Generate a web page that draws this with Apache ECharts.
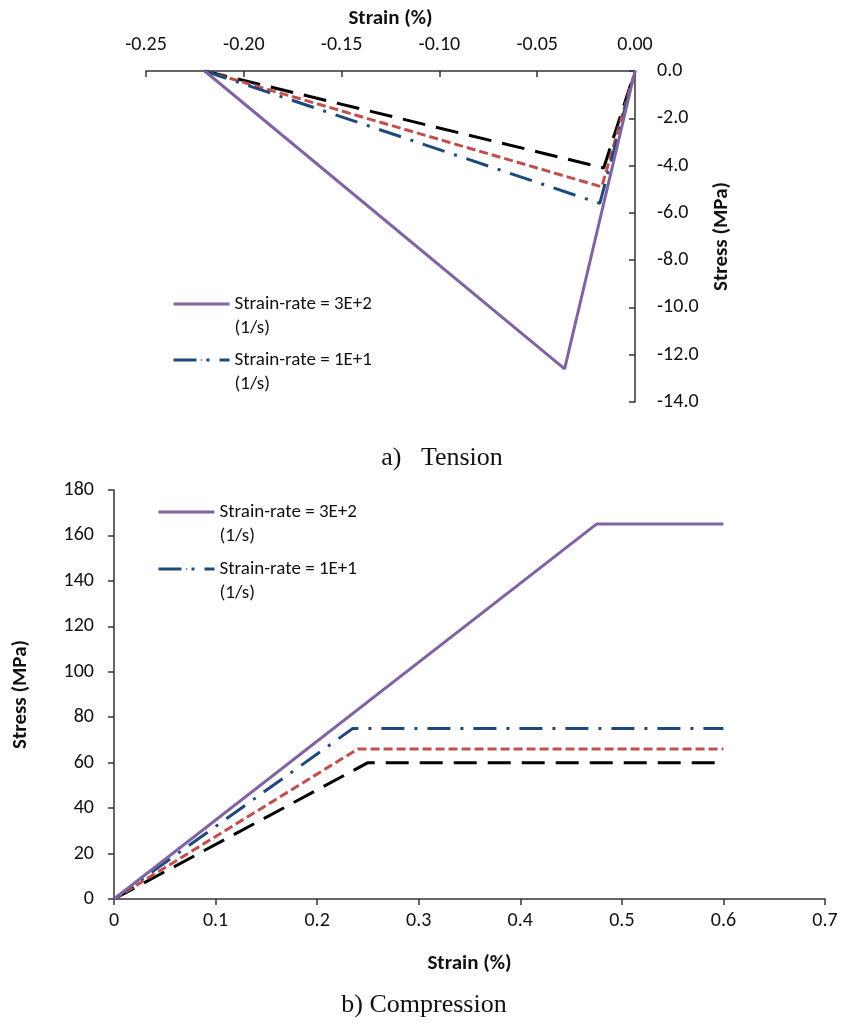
<!DOCTYPE html>
<html>
<head>
<meta charset="utf-8">
<script src="https://cdn.jsdelivr.net/npm/echarts@6/dist/echarts.min.js"></script>
<style>
  html, body { margin: 0; padding: 0; background: #fff; }
  #chart { width: 844px; height: 1030px; }
</style>
</head>
<body>
<div id="chart"></div>
<script>
(function() {
  // a) tension: strain (%) / stress (MPa)
  var tenPurpleStrain = [-0.22, -0.036, 0];
  var tenPurpleStress = [0, -12.6, 0];
  var tenBlueStrain = [-0.22, -0.018, 0];
  var tenBlueStress = [0, -5.6, 0];
  var tenRedStrain = [-0.22, -0.017, 0];
  var tenRedStress = [0, -4.9, 0];
  var tenBlackStrain = [-0.22, -0.016, 0];
  var tenBlackStress = [0, -4.1, 0];

  // b) compression
  var comPurpleStrain = [0, 0.475, 0.6];
  var comPurpleStress = [0, 165, 165];
  var comBlueStrain = [0, 0.235, 0.6];
  var comBlueStress = [0, 75, 75];
  var comRedStrain = [0, 0.24, 0.6];
  var comRedStress = [0, 66, 66];
  var comBlackStrain = [0, 0.25, 0.6];
  var comBlackStress = [0, 60, 60];

  var namePurple = "Strain-rate = 3E+2\n(1/s)";
  var nameBlue = "Strain-rate = 1E+1\n(1/s)";
  var nameRed = "red series";
  var nameBlack = "black series";

  var font = "Carlito, Lato, sans-serif";
  var axisCol = "#333";
  var nameStyle = { fontFamily: font, fontSize: 21, fontWeight: "bold", color: "#111" };

  var pairs = function(xs, ys) {
    return xs.map(function(x, i) { return [x, ys[i]]; });
  };

  var myChart = echarts.init(document.getElementById("chart"));

  var mkLine = function(name, idx, data, color, width, dash) {
    return {
      name: name,
      type: "line",
      xAxisIndex: idx,
      yAxisIndex: idx,
      data: data,
      symbol: "none",
      showSymbol: false,
      animation: false,
      lineStyle: { color: color, width: width, type: dash, cap: "butt" },
      itemStyle: { color: color }
    };
  };

  // legend text: an empty first line keeps the icon level with "Strain-rate = ..."
  var mkLegend = function(name, left, iconY) {
    return {
      data: [name],
      left: left,
      top: iconY - 37,
      padding: 0,
      itemWidth: 56,
      itemHeight: 2,
      selectedMode: false,
      lineStyle: { width: 3 },
      formatter: function(n) { return " \n" + n; },
      textStyle: { fontFamily: font, fontSize: 19, color: "#111", lineHeight: 24 }
    };
  };

  var option = {
    backgroundColor: "#fff",
    animation: false,
    grid: [
      { left: 146, right: 209, top: 71, bottom: 628 },
      { left: 114, right: 19, top: 490, bottom: 131 }
    ],
    legend: [
      mkLegend(namePurple, 172, 305),
      mkLegend(nameBlue, 172, 361),
      mkLegend(namePurple, 157, 513),
      mkLegend(nameBlue, 157, 570)
    ],
    xAxis: [
      {
        gridIndex: 0,
        type: "value",
        position: "top",
        min: -0.25,
        max: 0,
        interval: 0.05,
        name: "Strain (%)",
        nameLocation: "middle",
        nameGap: 42,
        nameTextStyle: nameStyle,
        axisLine: { onZero: false, lineStyle: { color: axisCol, width: 1.5 } },
        axisTick: { inside: true, length: 6, lineStyle: { color: axisCol, width: 1.5 } },
        axisLabel: {
          margin: 16,
          fontFamily: font,
          fontSize: 20,
          color: "#111",
          formatter: function(v) { return v.toFixed(2); }
        },
        splitLine: { show: false }
      },
      {
        gridIndex: 1,
        type: "value",
        min: 0,
        max: 0.7,
        interval: 0.1,
        name: "Strain (%)",
        nameLocation: "middle",
        nameGap: 54,
        nameTextStyle: nameStyle,
        axisLine: { onZero: false, lineStyle: { color: axisCol, width: 1.5 } },
        axisTick: { length: 6, lineStyle: { color: axisCol, width: 1.5 } },
        axisLabel: {
          margin: 12,
          fontFamily: font,
          fontSize: 20,
          color: "#111",
          formatter: function(v) { return v === 0 ? "0" : v.toFixed(1); }
        },
        splitLine: { show: false }
      }
    ],
    yAxis: [
      {
        gridIndex: 0,
        type: "value",
        position: "right",
        min: -14,
        max: 0,
        interval: 2,
        name: "Stress (MPa)",
        nameLocation: "middle",
        nameRotate: 90,
        nameGap: 76,
        nameTextStyle: nameStyle,
        axisLine: { show: true, onZero: false, lineStyle: { color: axisCol, width: 1.5 } },
        axisTick: { show: true, inside: true, length: 6, lineStyle: { color: axisCol, width: 1.5 } },
        axisLabel: {
          margin: 22,
          fontFamily: font,
          fontSize: 20,
          color: "#111",
          formatter: function(v) { return v.toFixed(1); }
        },
        splitLine: { show: false }
      },
      {
        gridIndex: 1,
        type: "value",
        min: 0,
        max: 180,
        interval: 20,
        name: "Stress (MPa)",
        nameLocation: "middle",
        nameRotate: 90,
        nameGap: 83,
        nameTextStyle: nameStyle,
        axisLine: { show: true, onZero: false, lineStyle: { color: axisCol, width: 1.5 } },
        axisTick: { show: true, length: 6, lineStyle: { color: axisCol, width: 1.5 } },
        axisLabel: { margin: 20, fontFamily: font, fontSize: 20, color: "#111" },
        splitLine: { show: false }
      }
    ],
    graphic: [
      {
        type: "text",
        x: 442,
        y: 458,
        style: {
          text: "a)   Tension",
          font: "26px 'Liberation Serif', serif",
          fill: "#111",
          align: "center",
          verticalAlign: "middle"
        }
      },
      {
        type: "text",
        x: 424,
        y: 1005,
        style: {
          text: "b) Compression",
          font: "26px 'Liberation Serif', serif",
          fill: "#111",
          align: "center",
          verticalAlign: "middle"
        }
      }
    ],
    series: [
      mkLine(nameBlack, 0, pairs(tenBlackStrain, tenBlackStress), "#000000", 3, [23, 11]),
      mkLine(nameRed, 0, pairs(tenRedStrain, tenRedStress), "#C0504D", 3, [9, 4]),
      mkLine(nameBlue, 0, pairs(tenBlueStrain, tenBlueStress), "#1F497D", 3, [23, 10, 3, 10]),
      mkLine(namePurple, 0, pairs(tenPurpleStrain, tenPurpleStress), "#8064A2", 3, "solid"),
      mkLine(nameBlack, 1, pairs(comBlackStrain, comBlackStress), "#000000", 3, [23, 11]),
      mkLine(nameRed, 1, pairs(comRedStrain, comRedStress), "#C0504D", 3, [9, 4]),
      mkLine(nameBlue, 1, pairs(comBlueStrain, comBlueStress), "#1F497D", 3, [23, 10, 3, 10]),
      mkLine(namePurple, 1, pairs(comPurpleStrain, comPurpleStress), "#8064A2", 3, "solid")
    ]
  };

  myChart.setOption(option);
  window.addEventListener("resize", function() {
    myChart.resize();
  });
})();
</script>
</body>
</html>
